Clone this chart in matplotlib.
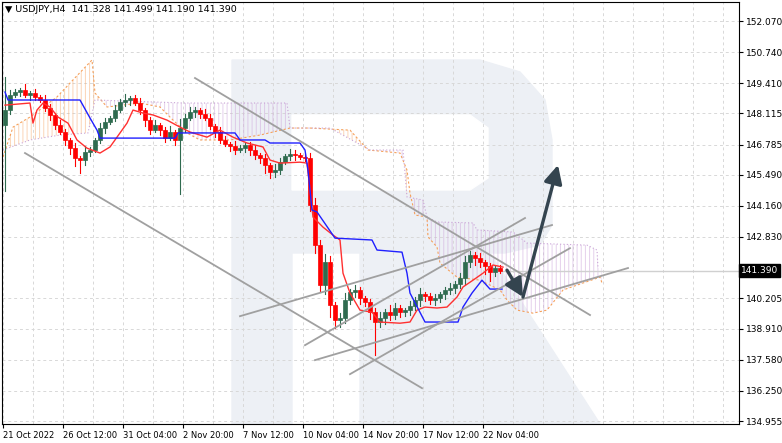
import numpy as np
import matplotlib.pyplot as plt
from matplotlib.patches import Polygon, Rectangle

# closes of the H4 candles (oldest first)
closes = [148.26, 148.90, 149.03, 149.12, 148.90, 148.99, 148.82, 148.69, 148.35, 148.05,
          147.62, 147.32, 146.98, 146.63, 146.21, 146.12, 146.46, 146.55, 146.98, 147.49,
          147.75, 147.92, 148.26, 148.60, 148.69, 148.77, 148.56, 148.26, 147.83, 147.40,
          147.62, 147.40, 147.06, 147.32, 146.98, 147.49, 147.92, 148.17, 148.26, 148.09,
          147.92, 147.58, 147.32, 146.98, 146.81, 146.72, 146.55, 146.63, 146.76, 146.55,
          146.33, 146.21, 145.91, 145.61, 145.69, 146.04, 146.29, 146.38, 146.33, 146.25,
          146.21, 144.20, 142.48, 140.77, 141.75, 139.91, 139.27, 139.36, 140.13, 140.47,
          140.56, 140.21, 140.04, 139.61, 139.19, 139.36, 139.61, 139.49, 139.79, 139.61,
          139.70, 139.87, 140.13, 140.38, 140.30, 140.13, 140.21, 140.38, 140.56, 140.64,
          140.81, 141.07, 141.75, 142.05, 141.93, 141.75, 141.58, 141.33, 141.50, 141.39]
first_open = 147.60
wick_up = [1.40, 0.20, 0.15, 0.10, 0.25, 0.10, 0.15, 0.10, 0.20, 0.15,
           0.10, 0.20, 0.15, 0.10, 0.20, 0.10, 0.25, 0.15, 0.10, 0.20,
           0.15, 0.10, 0.20, 0.15, 0.25, 0.10, 0.15, 0.20, 0.10, 0.15,
           0.20, 0.10, 0.15, 0.25, 0.10, 0.40, 0.15, 0.20, 0.15, 0.10,
           0.20, 0.15, 0.10, 0.20, 0.15, 0.10, 0.20, 0.15, 0.10, 0.15,
           0.20, 0.10, 0.15, 0.10, 0.25, 0.15, 0.10, 0.20, 0.15, 0.10,
           0.15, 0.20, 0.30, 0.20, 0.35, 0.25, 0.15, 0.20, 0.30, 0.15,
           0.20, 0.15, 0.10, 0.15, 0.20, 0.25, 0.15, 0.30, 0.20, 0.15,
           0.10, 0.20, 0.15, 0.25, 0.10, 0.15, 0.20, 0.10, 0.15, 0.20,
           0.15, 0.20, 0.25, 0.20, 0.15, 0.20, 0.10, 0.15, 0.10, 0.12]
wick_dn = [2.80, 0.15, 0.10, 0.15, 0.10, 0.20, 0.15, 0.10, 0.15, 0.20,
           0.15, 0.10, 0.20, 0.25, 0.35, 0.55, 0.20, 0.15, 0.10, 0.15,
           0.20, 0.10, 0.15, 0.10, 0.15, 0.20, 0.10, 0.15, 0.25, 0.15,
           0.10, 0.20, 0.15, 0.10, 0.20, 2.30, 0.15, 0.10, 0.20, 0.15,
           0.10, 0.15, 0.20, 0.15, 0.10, 0.20, 0.15, 0.10, 0.15, 0.20,
           0.15, 0.20, 0.35, 0.25, 0.20, 0.15, 0.10, 0.15, 0.20, 0.10,
           0.15, 0.25, 0.35, 0.30, 0.40, 0.50, 0.35, 0.30, 0.20, 0.15,
           0.20, 0.25, 0.15, 0.30, 1.40, 0.20, 0.25, 0.20, 0.15, 0.20,
           0.15, 0.20, 0.15, 0.25, 0.20, 0.15, 0.20, 0.15, 0.20, 0.15,
           0.20, 0.15, 0.25, 0.20, 0.30, 0.20, 0.35, 0.40, 0.15, 0.12]

# Ichimoku lines as breakpoints (bar index, price)
tenkan_idx = [0, 5, 5.6, 6.4, 7.6, 9, 10.6, 12.6, 14.4, 16.4, 19, 21, 22.4, 24.4, 25.6, 27.6, 29.6,
              32.4, 35, 37, 40.4, 43, 45.6, 48.4, 51.6, 53, 55, 59, 60.4, 61.6, 63.6, 65.6, 67,
              67.6, 69, 71, 73.4, 75, 79, 81, 82.4, 84, 86.4, 88.4, 90.4, 91.6, 93.6, 95.6, 97.6, 99.6]
tenkan_val = [148.47, 148.56, 147.70, 148.26, 148.56, 148.39, 147.96, 147.70, 146.98, 146.63,
              146.42, 146.68, 147.10, 147.70, 148.26, 148.13, 148.05, 147.83, 147.53, 147.32,
              147.10, 147.40, 147.10, 146.85, 146.68, 146.12, 145.99, 146.03, 145.99, 143.68,
              143.25, 142.91, 142.70, 141.28, 140.43, 139.70, 139.61, 139.19, 139.14, 139.19,
              139.70, 139.83, 139.79, 139.83, 140.26, 140.69, 140.98, 141.28, 141.63, 141.54]
kijun_idx = [0, 0.6, 15, 17, 18.4, 19, 34, 34.6, 46, 47, 52, 53, 59, 60, 60.6, 61.4, 62.4, 66,
             73.4, 74.4, 79.4, 80.4, 81, 84, 90.6, 91.6, 93.4, 95.4, 97, 99.4]
kijun_val = [149.03, 148.69, 148.69, 147.92, 147.40, 147.06, 147.06, 147.28, 147.28, 146.98,
             146.98, 146.85, 146.85, 146.55, 145.69, 143.98, 143.90, 142.78, 142.70, 142.27,
             142.18, 141.28, 140.43, 139.19, 139.19, 139.83, 140.43, 140.98, 140.60, 140.60]
span_a_idx = [-0.4, 1.6, 5, 10.4, 13.6, 17.4, 18, 20.4, 27, 31, 33.6, 36.4, 39, 45, 51, 57, 61, 69,
              72.6, 79, 80.4, 81, 82, 84.4, 84.6, 86.4, 87, 90.4, 95, 99, 100.4, 102.4, 105.6,
              108.4, 111.6, 115.6, 119, 119.4]
span_a_val = [146.25, 147.53, 147.96, 148.82, 149.55, 150.40, 148.99, 148.39, 148.56, 148.39,
              147.83, 147.28, 146.98, 146.98, 147.19, 147.49, 147.49, 147.40, 146.55, 146.42,
              145.69, 144.71, 143.77, 143.68, 142.83, 142.40, 141.71, 141.11, 140.98, 140.56,
              140.13, 139.70, 139.57, 139.70, 140.56, 140.86, 141.11, 140.86]
span_b_idx = [-0.4, 5, 11, 16.6, 18, 36, 56.4, 57, 65, 73, 79.6, 80.4, 83.6, 84.4, 86.4, 93.6,
              94.4, 101.6, 104.4, 116.4, 118.4, 118.6]
span_b_val = [146.55, 146.98, 147.19, 147.28, 148.69, 148.56, 148.56, 147.49, 147.49, 146.55,
              146.55, 144.54, 144.41, 143.68, 143.47, 143.43, 143.13, 143.04, 142.57, 142.48,
              142.27, 141.50]

# analyst drawings: (bar0, price0, bar1, price1)
trend_lines = [(38, 149.63, 117, 139.49), (4, 146.42, 83.4, 136.36), (47, 139.44, 109.4, 143.34),
               (60, 138.20, 104, 143.64), (62, 137.56, 124.6, 141.50), (69, 136.96, 113, 142.35)]
arrows = [(100.4, 141.41, 103.6, 140.26), (103.6, 140.26, 110.6, 145.91)]

y_ticks = [152.070, 150.740, 149.410, 148.115, 146.785, 145.490, 144.160, 142.830,
           140.205, 138.910, 137.580, 136.250, 134.955]
x_labels = ["21 Oct 2022", "26 Oct 12:00", "31 Oct 04:00", "2 Nov 20:00", "7 Nov 12:00",
            "10 Nov 04:00", "14 Nov 20:00", "17 Nov 12:00", "22 Nov 04:00"]
last_price = 141.390

W, H = 782, 443
fig = plt.figure(figsize=(W / 100, H / 100), dpi=100)
ax = fig.add_axes([2 / W, 19 / H, 737 / W, 422 / H])
ax.set_xlim(-0.6, 146.8)
ax.set_ylim(134.827, 152.883)

# watermark "R" in pixel space
wm = "#edf0f5"
def px(pts):
    return [(x / W, 1 - y / H) for x, y in pts]
fig.patches.append(Polygon(px([(232, 60), (480, 60), (520, 72), (545, 100), (552, 140), (552, 225),
                               (540, 245), (505, 253), (292, 253), (292, 424), (232, 424)]),
                           transform=fig.transFigure, color=wm, zorder=-2))
fig.patches.append(Polygon(px([(292, 115), (470, 115), (488, 128), (488, 178), (470, 190), (292, 190)]),
                           transform=fig.transFigure, color="white", zorder=-1))
fig.patches.append(Polygon(px([(360, 253), (490, 253), (600, 424), (360, 424)]),
                           transform=fig.transFigure, color=wm, zorder=-2))
ax.patch.set_alpha(0)

# grid
for v in y_ticks:
    ax.axhline(v, color="#d8d8d8", lw=0.7, ls=(0, (3, 3)), zorder=0)
for g in np.arange(-0.4, 147, 6):
    ax.axvline(g, color="#d8d8d8", lw=0.7, ls=(0, (3, 3)), zorder=0)

# cloud
grid_x = np.linspace(-0.4, 119.4, 800)
ga = np.interp(grid_x, span_a_idx, span_a_val)
gb = np.interp(grid_x, span_b_idx, span_b_val)
plt.rcParams['hatch.linewidth'] = 0.7
ax.fill_between(grid_x, ga, gb, where=ga >= gb, facecolor="none", edgecolor="#f7b27a",
                hatch="||||", lw=0, zorder=1, alpha=0.55)
ax.fill_between(grid_x, ga, gb, where=ga < gb, facecolor="none", edgecolor="#cfa9dc",
                hatch="||||", lw=0, zorder=1, alpha=0.55)
ax.plot(span_a_idx, span_a_val, color="#f5a05a", lw=0.8, ls=(0, (2, 2)), zorder=2)
ax.plot(span_b_idx, span_b_val, color="#c9a3d6", lw=0.8, ls=(0, (1, 2)), zorder=2)

# candles
n = len(closes)
opens = [first_open] + closes[:-1]
for i in range(n):
    o, c = opens[i], closes[i]
    col = "#2f6b4f" if c >= o else "#ff0000"
    hi = max(o, c) + wick_up[i]
    lo = min(o, c) - wick_dn[i]
    ax.plot([i, i], [lo, hi], color=col, lw=0.8, zorder=4)
    ax.add_patch(Rectangle((i - 0.32, min(o, c)), 0.64, max(abs(c - o), 0.03),
                           facecolor=col, edgecolor=col, lw=0.5, zorder=5))

ax.plot(tenkan_idx, tenkan_val, color="#ff3030", lw=1.0, zorder=6)
ax.plot(kijun_idx, kijun_val, color="#1f1fff", lw=1.0, zorder=6)

for x0, y0, x1, y1 in trend_lines:
    ax.plot([x0, x1], [y0, y1], color="#a0a0a0", lw=1.3, zorder=7)
for x0, y0, x1, y1 in arrows:
    ax.annotate("", xy=(x1, y1), xytext=(x0, y0),
                arrowprops=dict(arrowstyle="-|>,head_length=1.1,head_width=0.55",
                                color="#34444f", lw=2.4, shrinkA=0, shrinkB=0), zorder=8)

ax.plot([n - 1, 146.8], [last_price, last_price], color="#d0d0d0", lw=1.0, zorder=1)

# axes styling
for s in ax.spines.values():
    s.set_color("black")
    s.set_linewidth(0.8)
ax.yaxis.tick_right()
ax.set_yticks(y_ticks)
ax.set_yticklabels([f"{v:.3f}" for v in y_ticks], fontsize=6.5)
ax.tick_params(axis="y", length=3, pad=2)
xt = [-0.4 + 12 * k for k in range(len(x_labels))]
ax.set_xticks(xt)
ax.set_xticklabels(x_labels, fontsize=6, ha="left")
ax.tick_params(axis="x", length=3, pad=2)

ax.text(1.003, (last_price - 134.827) / (152.883 - 134.827), f"{last_price:.3f}",
        transform=ax.transAxes, fontsize=6.5, color="white", va="center", ha="left",
        bbox=dict(boxstyle="square,pad=0.2", fc="black", ec="black"), zorder=10)
fig.text(5 / W, 1 - 10 / H, "▼ USDJPY,H4  141.328 141.499 141.190 141.390",
         fontsize=6.8, va="center", ha="left")

fig.savefig("out.png", dpi=100)
